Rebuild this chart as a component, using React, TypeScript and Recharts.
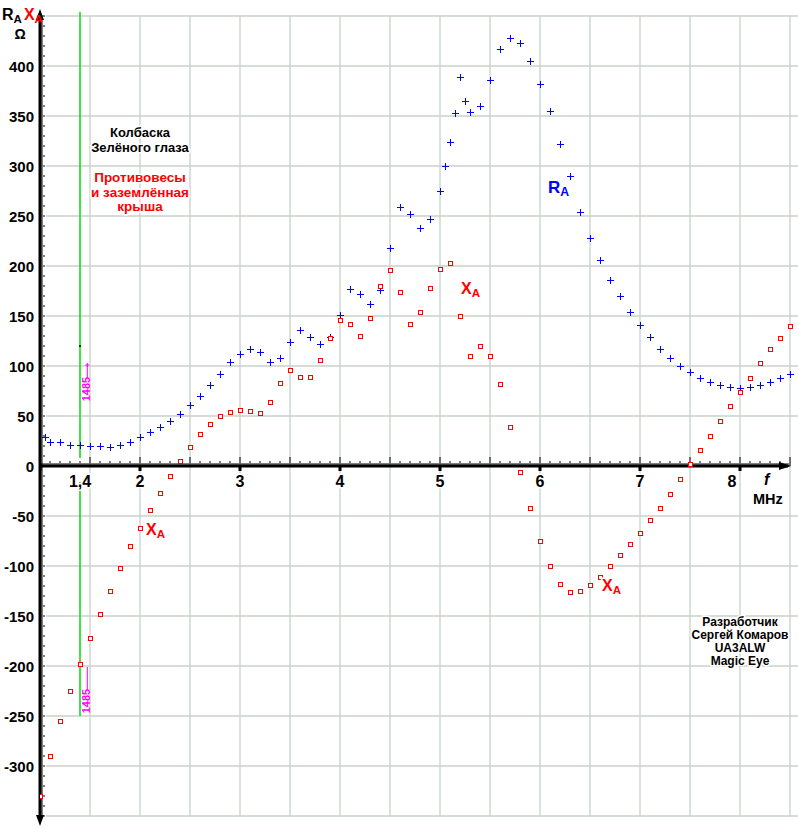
import React from "react";
import { ScatterChart, Scatter, XAxis, YAxis, ReferenceLine, ReferenceDot } from "recharts";

// R_A (blue crosses)
const rFreq = [
  1.05, 1.1, 1.2, 1.3, 1.4, 1.5, 1.6, 1.7, 1.8, 1.9,
  2.0, 2.1, 2.2, 2.3, 2.4, 2.5, 2.6, 2.7, 2.8, 2.9,
  3.0, 3.1, 3.2, 3.3, 3.4, 3.5, 3.6, 3.7, 3.8, 3.9,
  4.0, 4.1, 4.2, 4.3, 4.4, 4.5, 4.6, 4.7, 4.8, 4.9,
  5.0, 5.05, 5.1, 5.15, 5.2, 5.25, 5.3,
  5.4, 5.5, 5.6, 5.7, 5.8, 5.9, 6.0, 6.1, 6.2, 6.3,
  6.4, 6.5, 6.6, 6.7, 6.8, 6.9, 7.0, 7.1, 7.2, 7.3,
  7.4, 7.5, 7.6, 7.7, 7.8, 7.9, 8.0, 8.1, 8.2, 8.3, 8.4, 8.5,
];
const rOhm = [
  29, 24, 24, 21, 21, 20, 20, 19, 21, 24,
  29, 34, 39, 45, 52, 61, 70, 81, 92, 104,
  112, 117, 114, 104, 108, 124, 136, 129, 122, 129,
  151, 177, 172, 162, 176, 218, 259, 252, 238, 247,
  275, 300, 324, 353, 389, 365, 354,
  360, 386, 417, 428, 423, 405, 382, 355, 322, 290,
  254, 228, 206, 186, 170, 154, 141, 129, 117, 108,
  100, 94, 88, 84, 81, 79, 78, 79, 81, 84, 88, 92,
];

// X_A (red squares)
const xFreq = [
  1.0, 1.1, 1.2, 1.3, 1.4, 1.5, 1.6, 1.7, 1.8, 1.9,
  2.0, 2.1, 2.2, 2.3, 2.4, 2.5, 2.6, 2.7, 2.8, 2.9,
  3.0, 3.1, 3.2, 3.3, 3.4, 3.5, 3.6, 3.7, 3.8, 3.9,
  4.0, 4.1, 4.2, 4.3, 4.4, 4.5, 4.6, 4.7, 4.8, 4.9,
  5.0, 5.1, 5.2, 5.3, 5.4, 5.5, 5.6, 5.7, 5.8, 5.9,
  6.0, 6.1, 6.2, 6.3, 6.4, 6.5, 6.6, 6.7, 6.8, 6.9,
  7.0, 7.1, 7.2, 7.3, 7.4, 7.5, 7.6, 7.7, 7.8, 7.9,
  8.0, 8.1, 8.2, 8.3, 8.4, 8.5,
];
const xOhm = [
  -330, -290, -255, -225, -198, -172, -148, -125, -102, -80,
  -62, -44, -27, -10, 5, 19, 32, 42, 50, 54,
  56, 55, 53, 64, 83, 96, 89, 89, 106, 128,
  146, 142, 130, 148, 180, 196, 174, 142, 154, 178,
  197, 203, 150, 110, 120, 110, 82, 39, -6, -42,
  -75, -100, -118, -126, -125, -119, -111, -100, -89, -78,
  -67, -54, -42, -28, -13, 2, 16, 30, 45, 60,
  74, 88, 103, 117, 128, 140,
];

const xTickVals = [1.4, 2, 3, 4, 5, 6, 7, 8];
const xTickText = ["1,4", "2", "3", "4", "5", "6", "7", "8"];
const yTickVals = [-300, -250, -200, -150, -100, -50, 0, 50, 100, 150, 200, 250, 300, 350, 400];
const gridF = [1.5, 2, 2.5, 3, 3.5, 4, 4.5, 5, 5.5, 6, 6.5, 7, 7.5, 8, 8.5];
const gridV = [-350, -300, -250, -200, -150, -100, -50, 50, 100, 150, 200, 250, 300, 350, 400, 450];

const F_MIN = 1.0;
const F_MAX = 8.58;
const V_MIN = -364;
const V_MAX = 466;

const FONT = "'Liberation Sans', Arial, sans-serif";
const GRID = "#c8d2c8";

const rData = rFreq.map((f, i) => ({ f, v: rOhm[i] }));
const xData = xFreq.map((f, i) => ({ f, v: xOhm[i] }));

// ruler ticks along the axes
const fRuler = Array.from({ length: 376 }, (_, i) => {
  const n = i * 2; // hundredths above 1.00
  return { f: Math.round(100 + n) / 100, v: 0, k: n % 50 === 0 ? 3 : n % 10 === 0 ? 2 : 1 };
});
const vRuler = Array.from({ length: 401 }, (_, i) => {
  const v = -350 + i * 2;
  return { f: F_MIN, v, k: v % 50 === 0 ? 3 : v % 10 === 0 ? 2 : 1 };
});

const Plus = (p: any) => {
  const x = Math.round(p.cx);
  const y = Math.round(p.cy);
  return (
    <path d={`M${x - 3},${y + 0.5}h7M${x + 0.5},${y - 3}v7`} stroke="#0000ff" strokeWidth={1.2} fill="none" shapeRendering="crispEdges" />
  );
};
const Square = (p: any) => {
  const x = Math.round(p.cx);
  const y = Math.round(p.cy);
  return (
    <rect x={x - 1.5} y={y - 1.5} width={4} height={4} fill="#fff" stroke="#ff0000" strokeWidth={1.2} shapeRendering="crispEdges" />
  );
};
const FTick = (p: any) => {
  const k = p.payload.k;
  const len = k === 3 ? 9 : k === 2 ? 5 : 3;
  return (
    <g>
      <line x1={p.cx} x2={p.cx} y1={p.cy} y2={p.cy - len} stroke="#000" strokeWidth={1} />
      {k === 3 && Number.isInteger(p.payload.f) ? (
        <rect x={p.cx - 1.5} y={p.cy} width={3} height={5} fill="#000" />
      ) : null}
    </g>
  );
};
const VTick = (p: any) => {
  const k = p.payload.k;
  const len = k === 1 ? 3 : 5;
  return (
    <g>
      <line x1={p.cx} x2={p.cx + len} y1={p.cy} y2={p.cy} stroke="#000" strokeWidth={1} />
      {k === 3 ? <rect x={p.cx - 5} y={p.cy - 1} width={5} height={2} fill="#000" /> : null}
    </g>
  );
};

const txt = (key: string, f: number, v: number, content: any, style: any = {}) => (
  <ReferenceDot
    key={key}
    x={f}
    y={v}
    r={0}
    ifOverflow="visible"
    shape={(p: any) => (
      <text
        x={p.cx}
        y={p.cy}
        fontFamily={FONT}
        fontWeight="bold"
        fontSize={13}
        textAnchor="middle"
        stroke="#fff"
        strokeWidth={3}
        paintOrder="stroke"
        {...style}
      >
        {content}
      </text>
    )}
  />
);

const sub = (s: string) => (
  <tspan fontSize="0.72em" dy="3">{s}</tspan>
);

export default function App() {
  return (
    <div style={{ width: 798, height: 830, background: "#fff" }}>
      <style>{"body{margin:0}"}</style>
      <ScatterChart width={798} height={830} margin={{ top: 0, right: 0, bottom: 0, left: 40 }}>
        <XAxis type="number" dataKey="f" domain={[F_MIN, F_MAX]} allowDataOverflow hide />
        <YAxis type="number" dataKey="v" domain={[V_MIN, V_MAX]} allowDataOverflow hide />

        {gridF.map((g) => (
          <ReferenceLine key={"gf" + g} segment={[{ x: g, y: -350 }, { x: g, y: 450 }]} stroke={GRID} strokeWidth={1.3} />
        ))}
        {gridV.map((g) => (
          <ReferenceLine key={"gv" + g} segment={[{ x: 1.06, y: g }, { x: F_MAX, y: g }]} stroke={GRID} strokeWidth={1.3} />
        ))}

        {/* 1,4 MHz marker */}
        <ReferenceLine segment={[{ x: 1.4, y: 8 }, { x: 1.4, y: 454 }]} stroke="#00dd00" strokeWidth={1.5} />
        <ReferenceLine segment={[{ x: 1.4, y: -16 }, { x: 1.4, y: -250 }]} stroke="#00dd00" strokeWidth={1.5} />
        <ReferenceLine segment={[{ x: 1.473, y: 88 }, { x: 1.473, y: 101 }]} stroke="#ff00ff" strokeWidth={1} />
        <ReferenceLine segment={[{ x: 1.473, y: -201 }, { x: 1.473, y: -224 }]} stroke="#ff00ff" strokeWidth={1} />

        {/* axes */}
        <ReferenceLine segment={[{ x: F_MIN, y: 0 }, { x: 8.48, y: 0 }]} stroke="#000" strokeWidth={3} />
        <ReferenceLine segment={[{ x: F_MIN, y: -352 }, { x: F_MIN, y: 452 }]} stroke="#000" strokeWidth={3} />
        <Scatter data={fRuler} shape={FTick} isAnimationActive={false} legendType="none" />
        <Scatter data={vRuler} shape={VTick} isAnimationActive={false} legendType="none" />
        <ReferenceDot x={8.5} y={0} r={0} ifOverflow="visible"
          shape={(p: any) => <path d={`M${p.cx + 1},${p.cy}L${p.cx - 11},${p.cy - 4}L${p.cx - 11},${p.cy + 4}Z`} fill="#000" />} />
        <ReferenceDot x={F_MIN} y={457} r={0} ifOverflow="visible"
          shape={(p: any) => <path d={`M${p.cx},${p.cy}L${p.cx - 4},${p.cy + 11}L${p.cx + 4},${p.cy + 11}Z`} fill="#000" />} />
        <ReferenceDot x={F_MIN} y={-360} r={0} ifOverflow="visible"
          shape={(p: any) => <path d={`M${p.cx},${p.cy}L${p.cx - 4},${p.cy - 11}L${p.cx + 4},${p.cy - 11}Z`} fill="#000" />} />

        {/* data */}
        <Scatter name="R" data={rData} shape={Plus} isAnimationActive={false} />
        <Scatter name="X" data={xData} shape={Square} isAnimationActive={false} />
        <ReferenceDot x={1.4} y={120} r={1} fill="#000" stroke="none" />
        <ReferenceDot x={1.473} y={101} r={0} ifOverflow="visible"
          shape={(p: any) => <path d={`M${p.cx - 2},${p.cy}h4M${p.cx},${p.cy - 2}v4`} stroke="#ff00ff" strokeWidth={1} />} />

        {/* tick labels */}
        {xTickVals.map((t, i) =>
          txt("xl" + t, t === 8 ? 7.92 : t, -21, xTickText[i], { fontSize: 16 })
        )}
        {yTickVals.map((t) =>
          txt("yl" + t, 0.94, t, String(t), { fontSize: 15, textAnchor: "end", dominantBaseline: "central", stroke: "none" })
        )}
        {txt("fl", 8.24, -19, "f", { fontSize: 16, fontStyle: "italic", textAnchor: "start" })}
        {txt("mhz", 8.13, -38, "MHz", { fontSize: 14.5, textAnchor: "start" })}
        {txt("ra", 0.62, 446, <>R{sub("A")}<tspan fill="#ff0000" dy="-3" dx="2">X</tspan><tspan fill="#ff0000">{sub("A")}</tspan></>, { fontSize: 16, textAnchor: "start", stroke: "none" })}
        {txt("om", 0.8, 427, "Ω", { fontSize: 14, stroke: "none" })}

        {/* annotations */}
        {txt("t1", 2.0, 329, "Колбаска", { fontSize: 13 })}
        {txt("t2", 2.0, 314, "Зелёного глаза", { fontSize: 13 })}
        {txt("t3", 2.0, 284, "Противовесы", { fontSize: 13.5, fill: "#ff0000" })}
        {txt("t4", 2.0, 269, "и заземлённая", { fontSize: 13.5, fill: "#ff0000" })}
        {txt("t5", 2.0, 255, "крыша", { fontSize: 13.5, fill: "#ff0000" })}
        {txt("ra2", 6.08, 273, <>R{sub("A")}</>, { fontSize: 17, fill: "#0000ff", textAnchor: "start" })}
        {txt("xa1", 5.21, 172, <>X{sub("A")}</>, { fontSize: 16, fill: "#ff0000", textAnchor: "start" })}
        {txt("xa2", 2.06, -69, <>X{sub("A")}</>, { fontSize: 16, fill: "#ff0000", textAnchor: "start" })}
        {txt("xa3", 6.62, -125, <>X{sub("A")}</>, { fontSize: 16, fill: "#ff0000", textAnchor: "start" })}
        {txt("d1", 8.0, -160, "Разработчик", { fontSize: 12 })}
        {txt("d2", 8.0, -173, "Сергей Комаров", { fontSize: 12 })}
        {txt("d3", 8.0, -186, "UA3ALW", { fontSize: 12 })}
        {txt("d4", 8.0, -199, "Magic Eye", { fontSize: 12 })}
        {[77, -235].map((v) => (
          <ReferenceDot key={"mg" + v} x={1.455} y={v} r={0} ifOverflow="visible"
            shape={(p: any) => (
              <text x={p.cx} y={p.cy} transform={`rotate(-90 ${p.cx} ${p.cy})`} fontFamily={FONT} fontWeight="bold"
                fontSize={11} fill="#ff00ff" textAnchor="middle" dominantBaseline="central">1485</text>
            )} />
        ))}
      </ScatterChart>
    </div>
  );
}
